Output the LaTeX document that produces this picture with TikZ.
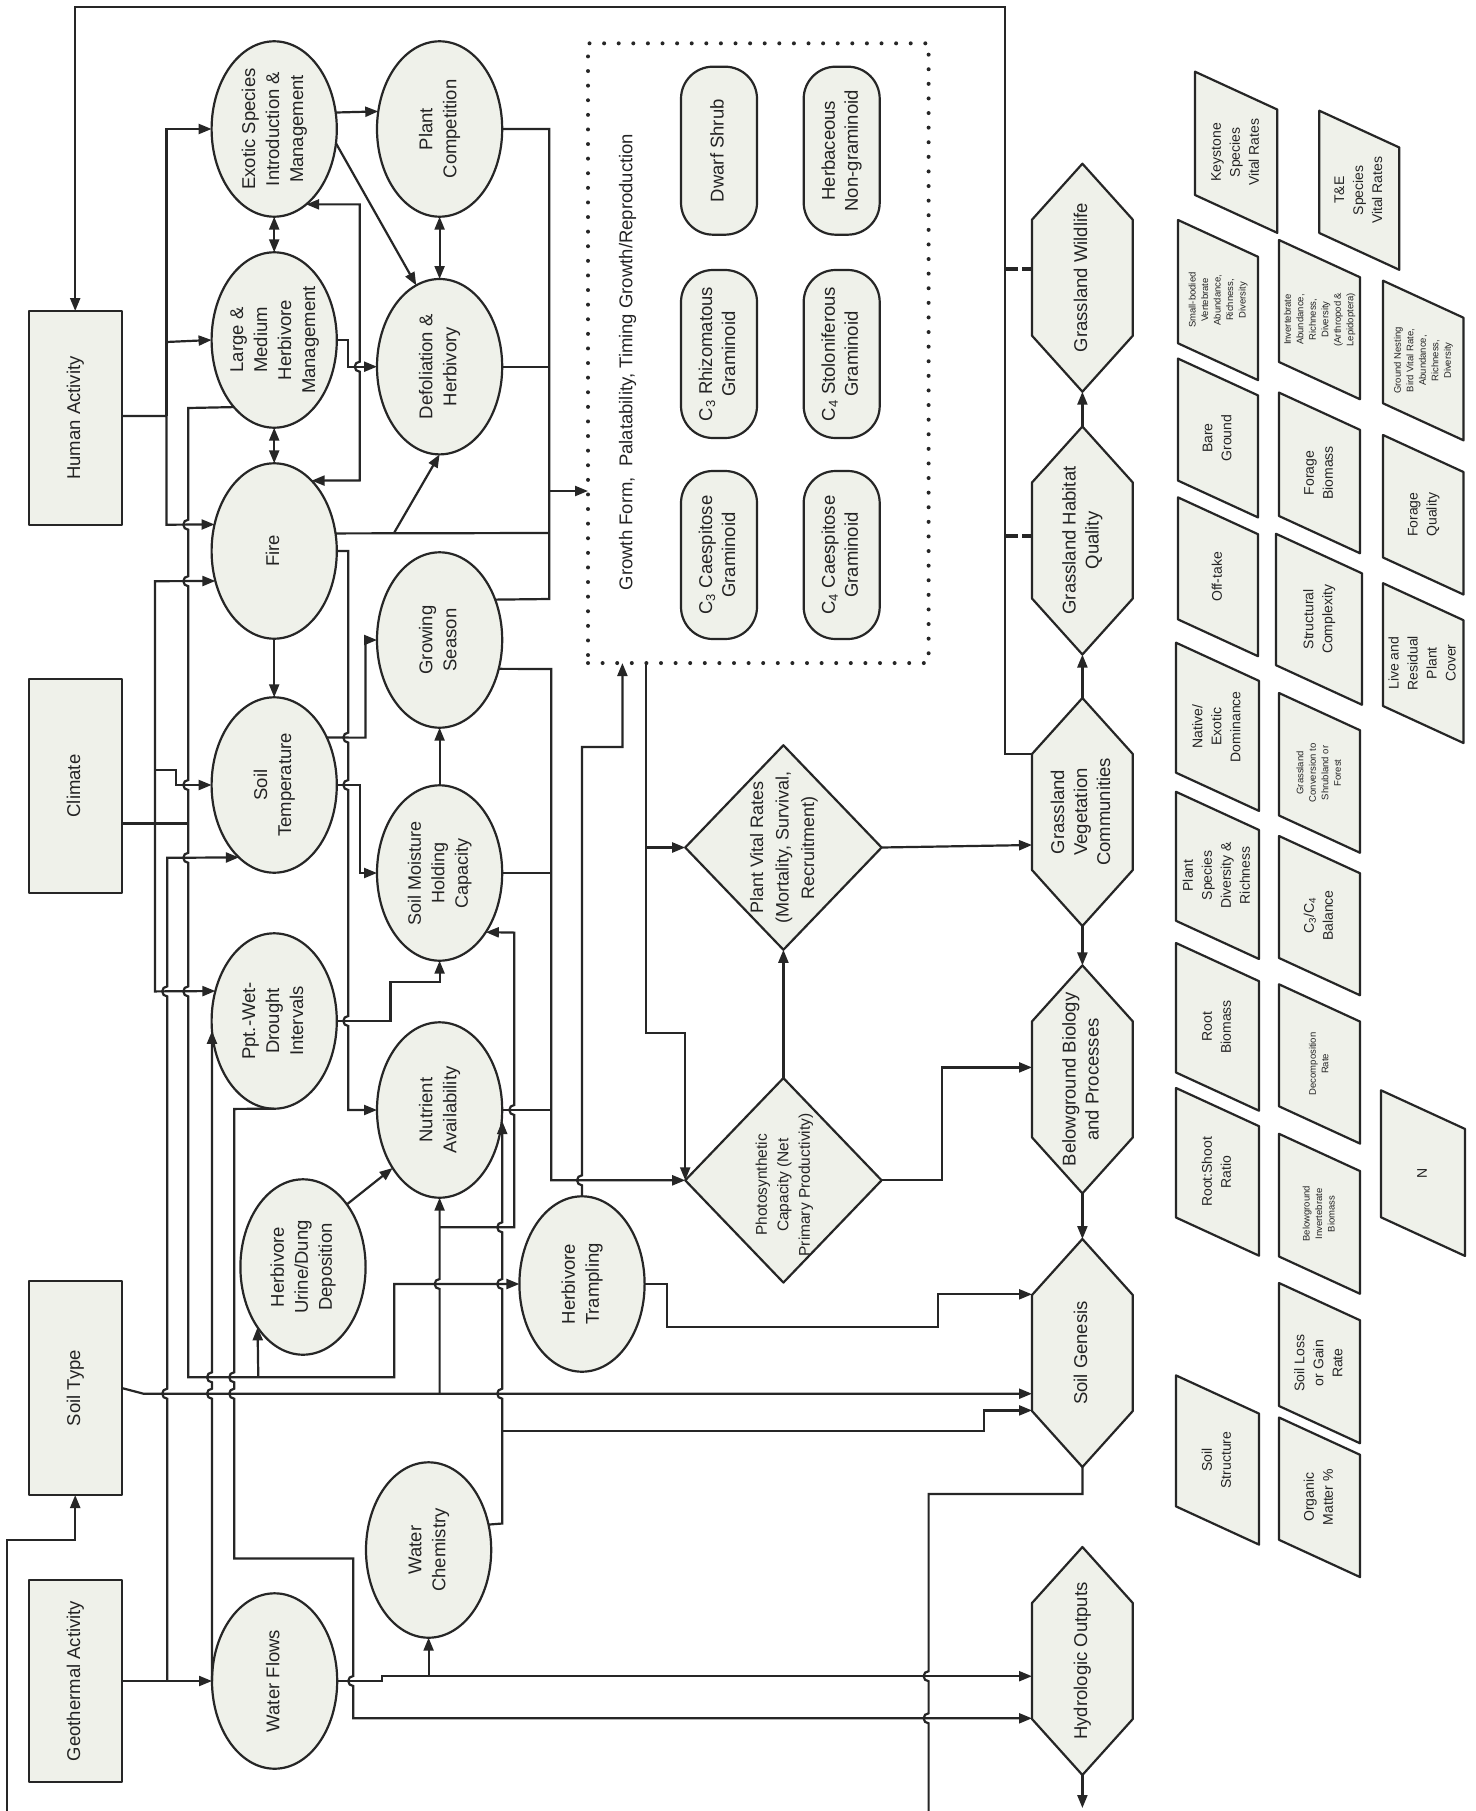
\documentclass[tikz,border=0pt]{standalone}
\usepackage{graphicx}
\usepackage{fontspec}
\setmainfont{Liberation Sans}
\usetikzlibrary{shapes.geometric,arrows.meta,calc}
\definecolor{cf}{RGB}{239,241,234}
\definecolor{lc}{RGB}{38,38,38}
\definecolor{tc}{RGB}{35,35,35}
\newcommand{\rt}[1]{\rotatebox{90}{\begin{tabular}{@{}c@{}}#1\end{tabular}}}
\newcommand{\hopU}{arc[start angle=90,end angle=270,radius=5]}
\newcommand{\hopD}{arc[start angle=270,end angle=90,radius=5]}
\newcommand{\fA}{\fontsize{18.5}{24}\selectfont}
\newcommand{\fH}{\fontsize{18.5}{23}\selectfont}
\newcommand{\fM}{\fontsize{18}{23.5}\selectfont}
\newcommand{\fV}{\fontsize{18}{25.5}\selectfont}
\newcommand{\fP}{\fontsize{15.5}{21.5}\selectfont}
\newcommand{\pmid}{\fontsize{14}{19}\selectfont}
\newcommand{\psml}{\fontsize{9.5}{12.5}\selectfont}
\newcommand{\ellN}[5]{\node[ell] (#1) at (#2,#3) {}; \node[tx,font=#4] (#1-t) at (#1.center) {\rt{#5}};}
\newcommand{\hexa}[4]{%
  \path[shp] (#2,#3-114) -- (#2+50.4,#3-58) -- (#2+50.4,#3+58) -- (#2,#3+114) -- (#2-50.4,#3+58) -- (#2-50.4,#3-58) -- cycle;
  \node[hexn,font=\fH] (#1) at (#2,#3) {\rt{#4}};}
\newcommand{\para}[7]{%
  \path[shp] (#2,#3) -- ++(#4,0.46*#4) -- ++(0,#5) -- ++(-#4,-0.46*#4) -- cycle;
  \node[tx,font=#6] (#1) at ({#2+#4/2},{#3+#5/2+0.23*#4}) {\rt{#7}};}
\begin{document}
\begin{tikzpicture}[x=1pt,y=-1pt,
  shp/.style={draw=lc,fill=cf,line width=2.2pt,line join=round},
  tx/.style={inner sep=0pt,outer sep=0pt,text=tc},
  ell/.style={ellipse,shp,minimum width=125.2pt,minimum height=175.4pt,inner sep=0pt,outer sep=0pt},
  box/.style={rectangle,shp,minimum width=93pt,minimum height=214pt,inner sep=0pt,outer sep=0pt,text=tc,font=\fA},
  dia/.style={diamond,shp,minimum width=196.4pt,minimum height=204.5pt,inner sep=0pt,outer sep=0pt},
  pill/.style={rectangle,shp,rounded corners=32pt,minimum width=76pt,minimum height=168pt,inner sep=0pt,outer sep=0pt,text=tc,font=\fH},
  hexn/.style={rectangle,minimum width=100.8pt,minimum height=228pt,inner sep=0pt,outer sep=0pt,text=tc},
  dotbox/.style={rectangle,draw=lc,line width=4pt,dash pattern=on 0pt off 14.6pt,line cap=round,minimum width=340.6pt,minimum height=619.7pt,inner sep=0pt,outer sep=0pt},
  cn/.style={draw=lc,line width=2.2pt},
  arr/.style={cn,-{Triangle[length=13pt,width=10pt]}},
  darr/.style={cn,{Triangle[length=13pt,width=10pt]}-{Triangle[length=13pt,width=10pt]}},
  dsh/.style={draw=lc,line width=3.6pt,dash pattern=on 13pt off 4pt}]
\useasboundingbox (0,0) rectangle (1475,1811);
\fill[white] (0,0) rectangle (1475,1811);

% ---------- boxes ----------
\node[box] (hum) at (75.2,418) {\rt{Human Activity}};
\node[box] (cli) at (75.2,786) {\rt{Climate}};
\node[box] (soil) at (75.2,1388) {\rt{Soil Type}};
\node[box,minimum height=202pt] (geo) at (75.2,1681) {\rt{Geothermal Activity}};

% ---------- ellipses ----------
\ellN{exo}{274.2}{129}{\fA}{Exotic Species\\Introduction \&\\Management}
\ellN{lm}{274.2}{340}{\fA}{Large \&\\Medium\\Herbivore\\Management}
\ellN{fire}{274.2}{551}{\fA}{Fire}
\ellN{st}{274.2}{785}{\fA}{Soil\\Temperature}
\ellN{ppt}{274.2}{1021}{\fA}{Ppt.-Wet-\\Drought\\Intervals}
\ellN{uri}{303}{1267}{\fA}{Herbivore\\Urine/Dung\\Deposition}
\ellN{wf}{274.6}{1681}{\fA}{Water Flows}
\ellN{pc}{439.6}{129}{\fA}{Plant\\Competition}
\ellN{def}{439.6}{366.7}{\fA}{Defoliation \&\\Herbivory}
\ellN{gs}{439.6}{640}{\fA}{Growing\\Season}
\ellN{smh}{439.6}{873}{\fM}{Soil Moisture\\Holding\\Capacity}
\ellN{nut}{439.6}{1110}{\fA}{Nutrient\\Availability}
\ellN{wc}{428.6}{1550}{\fA}{Water\\Chemistry}
\ellN{tra}{582}{1284}{\fA}{Herbivore\\Trampling}

% ---------- dotted group ----------
\node[dotbox] (gf) at (758.3,353.2) {};
\node[tx,font=\fontsize{18.5}{22}\selectfont] (gf-t) at (628,362) {\rt{Growth Form,~ Palatability, Timing Growth/Reproduction}};
\node[pill] (dws) at (719,150.7) {\rt{Dwarf Shrub}};
\node[pill] (c3r) at (719,354) {\rt{C\textsubscript{3} Rhizomatous\\Graminoid}};
\node[pill] (c3c) at (719,555) {\rt{C\textsubscript{3} Caespitose\\Graminoid}};
\node[pill] (hng) at (841.7,150.7) {\rt{Herbaceous\\Non-graminoid}};
\node[pill] (c4s) at (841.7,354) {\rt{C\textsubscript{4} Stoloniferous\\Graminoid}};
\node[pill] (c4c) at (841.7,555) {\rt{C\textsubscript{4} Caespitose\\Graminoid}};

% ---------- diamonds ----------
\node[dia] (pvr) at (783.4,847.5) {};
\node[tx,font=\fV] (pvr-t) at (pvr.center) {\rt{Plant Vital Rates\\(Mortality, Survival,\\Recruitment)}};
\node[dia] (pho) at (783.4,1180.3) {};
\node[tx,font=\fP] (pho-t) at (784,1185) {\rt{Photosynthetic\\Capacity (Net\\Primary Productivity)}};

% ---------- hexagons ----------
\hexa{wil}{1082.4}{277.7}{Grassland Wildlife}
\hexa{hab}{1082.4}{540.5}{Grassland Habitat\\Quality}
\hexa{veg}{1082.4}{812}{Grassland\\Vegetation\\Communities}
\hexa{bel}{1082.4}{1079.4}{Belowground Biology\\and Processes}
\hexa{sgn}{1082.4}{1353}{Soil Genesis}
\hexa{hyd}{1082.4}{1661}{Hydrologic Outputs}

% ---------- indicator parallelograms ----------
\para{key}{1195}{71.7}{82.3}{123.3}{\pmid}{Keystone\\Species\\Vital Rates}
\para{tne}{1319.3}{110.7}{80}{122.3}{\pmid}{T\&E\\Species\\Vital Rates}
\para{sbv}{1178}{220}{80}{123.3}{\psml}{Small-bodied\\Vertebrate\\Abundance,\\Richness,\\Diversity}
\para{bare}{1178}{358.6}{80}{122}{\pmid}{Bare\\Ground}
\para{off}{1178}{497.4}{80}{122}{\pmid}{Off-take}
\para{nat}{1176}{642.7}{83}{130}{\pmid}{Native/\\Exotic\\Dominance}
\para{psd}{1176}{791.8}{83}{129}{\pmid}{Plant\\Species\\Diversity \&\\Richness}
\para{rbm}{1176}{943}{83}{129.5}{\pmid}{Root\\Biomass}
\para{rsr}{1176}{1088}{83}{129.5}{\pmid}{Root:Shoot\\Ratio}
\para{sst}{1176}{1375.4}{83}{131}{\pmid}{Soil\\Structure}
\para{inv}{1279}{240}{81}{122}{\psml}{Invertebrate\\Abundance,\\Richness,\\Diversity\\(Arthropod \&\\Lepidoptera)}
\para{fbm}{1279}{392.6}{81}{123.4}{\pmid}{Forage\\Biomass}
\para{stc}{1276}{533.8}{86}{131.4}{\pmid}{Structural\\Complexity}
\para{gcs}{1279}{693}{81}{122.5}{\psml}{Grassland\\Conversion to\\Shrubland or\\Forest}
\para{cfb}{1279}{836}{81}{122}{\pmid}{C\textsubscript{3}/C\textsubscript{4}\\Balance}
\para{dec}{1279}{984.3}{81}{122}{\psml}{Decomposition\\Rate}
\para{bib}{1279}{1133.8}{81}{122.7}{\psml}{Belowground\\Invertebrate\\Biomass}
\para{slg}{1279}{1283}{81}{123}{\pmid}{Soil Loss\\or Gain\\Rate}
\para{omp}{1279}{1417.5}{81}{122.3}{\pmid}{Organic\\Matter \%}
\para{gnb}{1383}{280.7}{80.5}{122.6}{\psml}{Ground Nesting\\Bird Vital Rate,\\Abundance,\\Richness,\\Diversity}
\para{fq}{1383}{435}{80.5}{122.5}{\pmid}{Forage\\Quality}
\para{lrp}{1383}{583.2}{80.5}{122.8}{\pmid}{Live and\\Residual\\Plant\\Cover}
\para{nn}{1381}{1090.3}{84}{127}{\pmid}{N}

% ---------- connectors: right part ----------
\draw[arr] (veg.west |- 0,754) -- (1005,754) -- (1005,7) -- (hum.north |- 0,7) -- (hum.north);
\draw[dsh] (1005,269) -- (wil.west |- 0,269);
\draw[dsh] (1005,536) -- (hab.west |- 0,536);
\draw[arr] (hab.north) -- (wil.south);
\draw[arr] (veg.north) -- (hab.south);
\draw[arr] (veg.south) -- (bel.north);
\draw[arr] (bel.south) -- (sgn.north);
\draw[arr] (pvr.east) -- (veg.west |- 0,845);
\draw[arr] (pho.north) -- (pvr.south);
\draw[arr] (pho.east) -- (941.8,1180.3) -- (941.8,1067.4) -- (bel.west |- 0,1067.4);
\draw[arr] (gf.south -| 646,0) -- (646,1033) -- (685.2,1033) -- (pho.west);
\draw[arr] (646,847.5) -- (pvr.west);
\draw[arr] (tra.north) -- (582,1185.3) \hopU -- (582,747) -- (622.4,747) -- (gf.south -| 622.4,0);

% upper bus into the growth-form group
\draw[cn] (pc.east) -- (549.2,129) -- (549.2,599) -- (gs.36.6);
\draw[cn] (def.east) -- (549.2,366.7);
\draw[cn] (fire.16.4) -- (549.2,533);
\draw[arr] (549.2,491) -- (gf.west |- 0,491);
\draw[arr] (394,533) -- (def.south);
% lower bus into photosynthetic capacity
\draw[arr] (gs.-26.2) -- (551.3,669) -- (551.3,1180.3) -- (pho.west);
\draw[cn] (smh.east) -- (551.3,873);
\draw[cn] (nut.east) -- (551.3,1110);

% ---------- human activity ----------
\draw[arr] (hum.east |- 0,416) -- (166.5,416) -- (166.5,524.7) -- (fire.156.2);
\draw[arr] (166.5,416) -- (166.5,129) -- (exo.west);
\draw[arr] (166.5,342) -- (lm.west);

% ---------- upper ellipse relations ----------
\draw[arr] (lm.east) -- (348.3,340) -- (348.3,366.7) -- (def.west);
\draw[darr] (exo.-67.1) -- (359.7,204.4) -- (359.7,361.7) \hopD -- (359.7,480.4) -- (fire.62.4);
\draw[darr] (exo.south) -- (lm.north);
\draw[darr] (lm.south) -- (fire.north);
\draw[darr] (pc.south) -- (def.north);
\draw[arr] (exo.15.6) -- (pc.164.4);
\draw[arr] (exo.-13.9) -- (def.106.4);
\draw[arr] (fire.south) -- (st.north);
\draw[arr] (fire.east) -- (348.3,551) -- (348.3,732.6) \hopD -- (348.3,780) \hopD -- (348.3,1016) \hopD -- (348.3,1110) -- (nut.west);
\draw[arr] (st.42) -- (365.5,737.6) -- (365.5,640) -- (gs.west);
\draw[arr] (st.east) -- (359.7,785) -- (359.7,873) -- (smh.west);
\draw[arr] (ppt.east) -- (390.4,1021) -- (390.4,981.6) -- (smh.south |- 0,981.6) -- (smh.south);
\draw[arr] (smh.north) -- (gs.south);

% ---------- water chemistry ----------
\draw[arr] (wc.23.8) -- (502.2,1523.5) -- (502.2,1398.7) \hopU -- (502.2,1289) \hopU -- (502.2,1232.3) \hopU -- (nut.east |- 0,1121);
\draw[arr] (502.2,1430.7) -- (983.7,1430.7) -- (983.7,1410.4) -- (sgn.west |- 0,1410.4);

% ---------- soil type ----------
\draw[arr] (soil.east) -- (143.5,1393.7) -- (sgn.west |- 0,1393.7);
\draw[arr] (439.6,1393.7) -- (439.6,1289) \hopU -- (nut.south);
\draw[arr] (439.6,1227.3) -- (514.3,1227.3) -- (514.3,1115) \hopU -- (514.3,932.6) -- (smh.-52.5);

% ---------- geothermal / water flows ----------
\draw[arr] (geo.east) -- (wf.west);
\draw[arr] (167.2,1681) -- (167.2,1398.7) \hopU -- (167.2,996.4) \hopU -- (167.2,857.8) -- (st.244.2);
\draw[arr] (wf.west) -- (212,1398.7) \hopU -- (212,1382.3) \hopU -- (ppt.189.1);
\draw[arr] (ppt.south) -- (234.2,1108.9) -- (234.2,1372.3) \hopD -- (234.2,1388.7) \hopD -- (234.2,1558.5) -- (353.2,1558.5) -- (353.2,1676) \hopD -- (353.2,1718.3) -- (hyd.west |- 0,1718.3);
\draw[arr] (wf.east) -- (381.6,1681) -- (381.6,1676.2) -- (hyd.west |- 0,1676.2);
\draw[arr] (428.6,1676.2) -- (wc.south);
\draw[cn] (sgn.south) -- (1082.4,1494) -- (928.6,1494) -- (928.6,1671.2) \hopD -- (928.6,1713.3) \hopD -- (928.6,1811);
\draw[arr] (hyd.south) -- (1082.4,1808);
\draw[arr] (6.9,1811) -- (6.9,1540) -- (soil.south |- 0,1540) -- (soil.south);

% ---------- herbivores ----------
\draw[arr] (tra.east) -- (667.3,1284) -- (667.3,1326.7) -- (937.8,1326.7) -- (937.8,1294.3) -- (sgn.west |- 0,1294.3);
\draw[arr] (lm.239.7) -- (188.3,408) -- (188.3,519.7) \hopD -- (188.3,576.2) \hopD -- (188.3,780) \hopD -- (188.3,852.8) \hopD -- (188.3,986.4) \hopD -- (188.3,1377.3) -- (394.2,1377.3) -- (394.2,1284) -- (tra.west);
\draw[arr] (258.3,1377.3) -- (uri.233.9);
\draw[arr] (uri.55.9) -- (nut.231.5);

% ---------- climate ----------
\draw[cn] (cli.east |- 0,823.4) -- (188.3,823.4);
\draw[arr] (155,823.4) -- (155,581.2) -- (fire.207.2);
\draw[arr] (155,823.4) -- (155,991.4) -- (ppt.153.3);
\draw[arr] (155,770) -- (176,770) -- (176,785) -- (st.west);
\end{tikzpicture}
\end{document}
